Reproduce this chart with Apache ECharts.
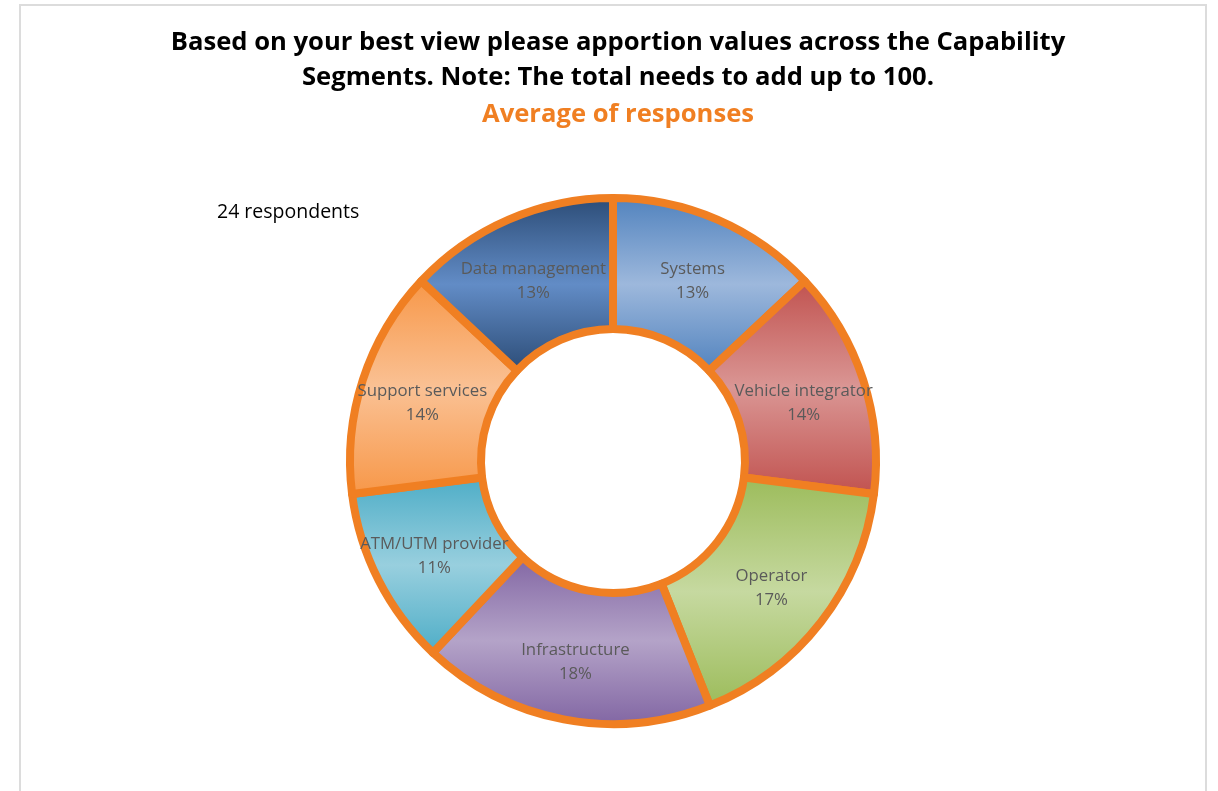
<!DOCTYPE html>
<html>
<head>
<meta charset="utf-8">
<script src="https://cdn.jsdelivr.net/npm/echarts@6/dist/echarts.min.js"></script>
<style>
    html, body { margin: 0; padding: 0; background: #fff; }
    #chart { width: 1218px; height: 791px; }
</style>
</head>
<body>
<div id="chart"></div>
<script>
// segments, clockwise from 12 o'clock
const segments = ['Systems', 'Vehicle integrator', 'Operator', 'Infrastructure',
    'ATM/UTM provider', 'Support services', 'Data management'];
const shares = [13, 14, 17, 18, 11, 14, 13];
// [edge colour, middle colour] for the vertical gradient
const fills = [
    ['#4f81bd', '#9db8dc'],
    ['#c0504d', '#da9694'],
    ['#9bbb59', '#c6d9a0'],
    ['#8064a2', '#b4a3c8'],
    ['#4bacc6', '#98cfde'],
    ['#f79646', '#fac194'],
    ['#2a4a74', '#628cc6'],
];

const chart = echarts.init(document.getElementById('chart'), null, { renderer: 'canvas' });

function grad(c) {
    return new echarts.graphic.LinearGradient(0, 0, 0, 1, [
        { offset: 0, color: c[0] },
        { offset: 0.5, color: c[1] },
        { offset: 1, color: c[0] },
    ]);
}

chart.setOption({
    backgroundColor: '#fff',
    animation: false,
    title: [
        {
            text: 'Based on your best view please apportion values across the Capability\nSegments. Note: The total needs to add up to 100.',
            left: 613, top: 20, textAlign: 'center',
            textStyle: { fontFamily: 'Open Sans', fontWeight: 'bold', fontSize: 25.6, color: '#000', lineHeight: 35 },
        },
        {
            text: 'Average of responses',
            left: 613, top: 97, textAlign: 'center',
            textStyle: { fontFamily: 'Open Sans', fontWeight: 'bold', fontSize: 25.6, color: '#f07f22' },
        },
        {
            text: '24 respondents',
            left: 212, top: 197,
            textStyle: { fontFamily: 'Open Sans', fontWeight: 'normal', fontSize: 19.5, color: '#000' },
        },
    ],
    graphic: [{
        type: 'rect',
        shape: { x: 20, y: 5, width: 1186, height: 820 },
        style: { fill: 'none', stroke: '#dcdcdc', lineWidth: 2 },
        silent: true,
    }],
    series: [{
        type: 'pie',
        center: [613, 461],
        radius: [132, 263],
        startAngle: 90,
        clockwise: true,
        percentPrecision: 0,
        label: {
            show: true,
            position: 'inside',
            formatter: '{b}\n{d}%',
            fontFamily: 'Open Sans',
            fontSize: 16.8,
            lineHeight: 24,
            color: '#5a5a5a',
        },
        labelLayout: { dy: 4 },
        labelLine: { show: false },
        itemStyle: { borderColor: '#f07f22', borderWidth: 8 },
        emphasis: { disabled: true },
        data: segments.map((name, i) => ({
            name: name,
            value: shares[i],
            itemStyle: { color: grad(fills[i]) },
        })),
    }],
});
</script>
</body>
</html>
